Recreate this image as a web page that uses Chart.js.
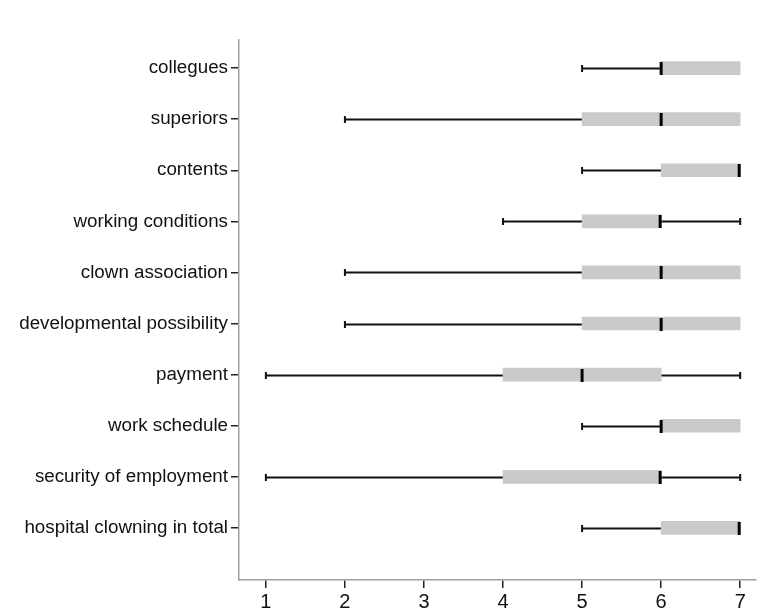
<!DOCTYPE html>
<html>
<head>
<meta charset="utf-8">
<script src="https://cdn.jsdelivr.net/npm/chart.js@4/dist/chart.umd.min.js"></script>
<style>
  body { margin: 0; background: #fff; }
  #wrap { width: 757px; height: 613px; }
</style>
</head>
<body>
<div id="wrap"><canvas id="box" width="757" height="613"></canvas></div>
<script>
// categories, top to bottom
const categories = [
  "collegues", "superiors", "contents", "working conditions", "clown association",
  "developmental possibility", "payment", "work schedule", "security of employment",
  "hospital clowning in total"
];
// five-number summaries
const mins    = [5, 2, 5, 4, 2, 2, 1, 5, 1, 5];
const q1s     = [6, 5, 6, 5, 5, 5, 4, 6, 4, 6];
const medians = [6, 6, 7, 6, 6, 6, 5, 6, 6, 7];
const q3s     = [7, 7, 7, 6, 7, 7, 6, 7, 6, 7];
const maxs    = [7, 7, 7, 7, 7, 7, 7, 7, 7, 7];
const xTicks  = [1, 2, 3, 4, 5, 6, 7];

const BOX_H = 13;

// whiskers + caps behind the boxes, medians on top
const boxParts = {
  id: "boxParts",
  beforeDatasetsDraw(chart) {
    const { ctx, scales: { x, y } } = chart;
    ctx.save();
    ctx.strokeStyle = "#111";
    categories.forEach((c, i) => {
      const py = Math.round(y.getPixelForValue(i)) + 0.5;
      ctx.lineWidth = 1.8;
      ctx.beginPath();
      if (mins[i] < q1s[i]) {
        ctx.moveTo(x.getPixelForValue(mins[i]), py);
        ctx.lineTo(x.getPixelForValue(q1s[i]), py);
      }
      if (maxs[i] > q3s[i]) {
        ctx.moveTo(x.getPixelForValue(q3s[i]), py);
        ctx.lineTo(x.getPixelForValue(maxs[i]), py);
      }
      ctx.stroke();
      ctx.lineWidth = 2;
      ctx.beginPath();
      if (mins[i] < q1s[i]) {
        const px = x.getPixelForValue(mins[i]);
        ctx.moveTo(px, py - 3.5);
        ctx.lineTo(px, py + 3.5);
      }
      if (maxs[i] > q3s[i]) {
        const px = x.getPixelForValue(maxs[i]);
        ctx.moveTo(px, py - 3.5);
        ctx.lineTo(px, py + 3.5);
      }
      ctx.stroke();
    });
    ctx.restore();
  },
  afterDatasetsDraw(chart) {
    const { ctx, scales: { x, y } } = chart;
    ctx.save();
    ctx.strokeStyle = "#000";
    ctx.lineWidth = 3;
    categories.forEach((c, i) => {
      const py = Math.round(y.getPixelForValue(i)) + 0.5;
      let px = x.getPixelForValue(medians[i]);
      if (medians[i] === q3s[i]) px -= 1;
      ctx.beginPath();
      ctx.moveTo(px, py - BOX_H / 2);
      ctx.lineTo(px, py + BOX_H / 2);
      ctx.stroke();
    });
    ctx.restore();
  }
};

new Chart(document.getElementById("box"), {
  type: "bar",
  data: {
    datasets: [{
      data: categories.map((c, i) => ({ y: i, x: [q1s[i], q3s[i]] })),
      backgroundColor: "#cacaca",
      borderWidth: 0,
      barThickness: BOX_H
    }]
  },
  options: {
    indexAxis: "y",
    responsive: false,
    animation: false,
    layout: { padding: { top: 40, right: 1, left: 0, bottom: 0 } },
    plugins: { legend: { display: false }, tooltip: { enabled: false } },
    scales: {
      x: {
        type: "linear",
        min: 0.66,
        max: 7.2,
        afterBuildTicks(scale) { scale.ticks = xTicks.map(v => ({ value: v })); },
        afterFit(scale) { scale.height = 33; },
        grid: { drawOnChartArea: false, drawTicks: true, tickLength: 8, color: "#222", lineWidth: 1.5 },
        border: { color: "#a0a0a0", width: 1.5 },
        ticks: { color: "#111", font: { family: "Liberation Sans, Arial", size: 20 }, padding: 2 }
      },
      y: {
        type: "linear",
        reverse: true,
        offset: false,
        min: -0.55,
        max: 10.02,
        afterBuildTicks(scale) { scale.ticks = categories.map((c, i) => ({ value: i })); },
        afterFit(scale) { scale.width = 239; },
        grid: { offset: false, drawOnChartArea: false, drawTicks: true, tickLength: 8, color: "#222", lineWidth: 1.5 },
        border: { color: "#a0a0a0", width: 1.5 },
        ticks: {
          autoSkip: false,
          color: "#111",
          font: { family: "Liberation Sans, Arial", size: 18.8 },
          padding: 3,
          callback: v => categories[v]
        }
      }
    }
  },
  plugins: [boxParts]
});
</script>
</body>
</html>
